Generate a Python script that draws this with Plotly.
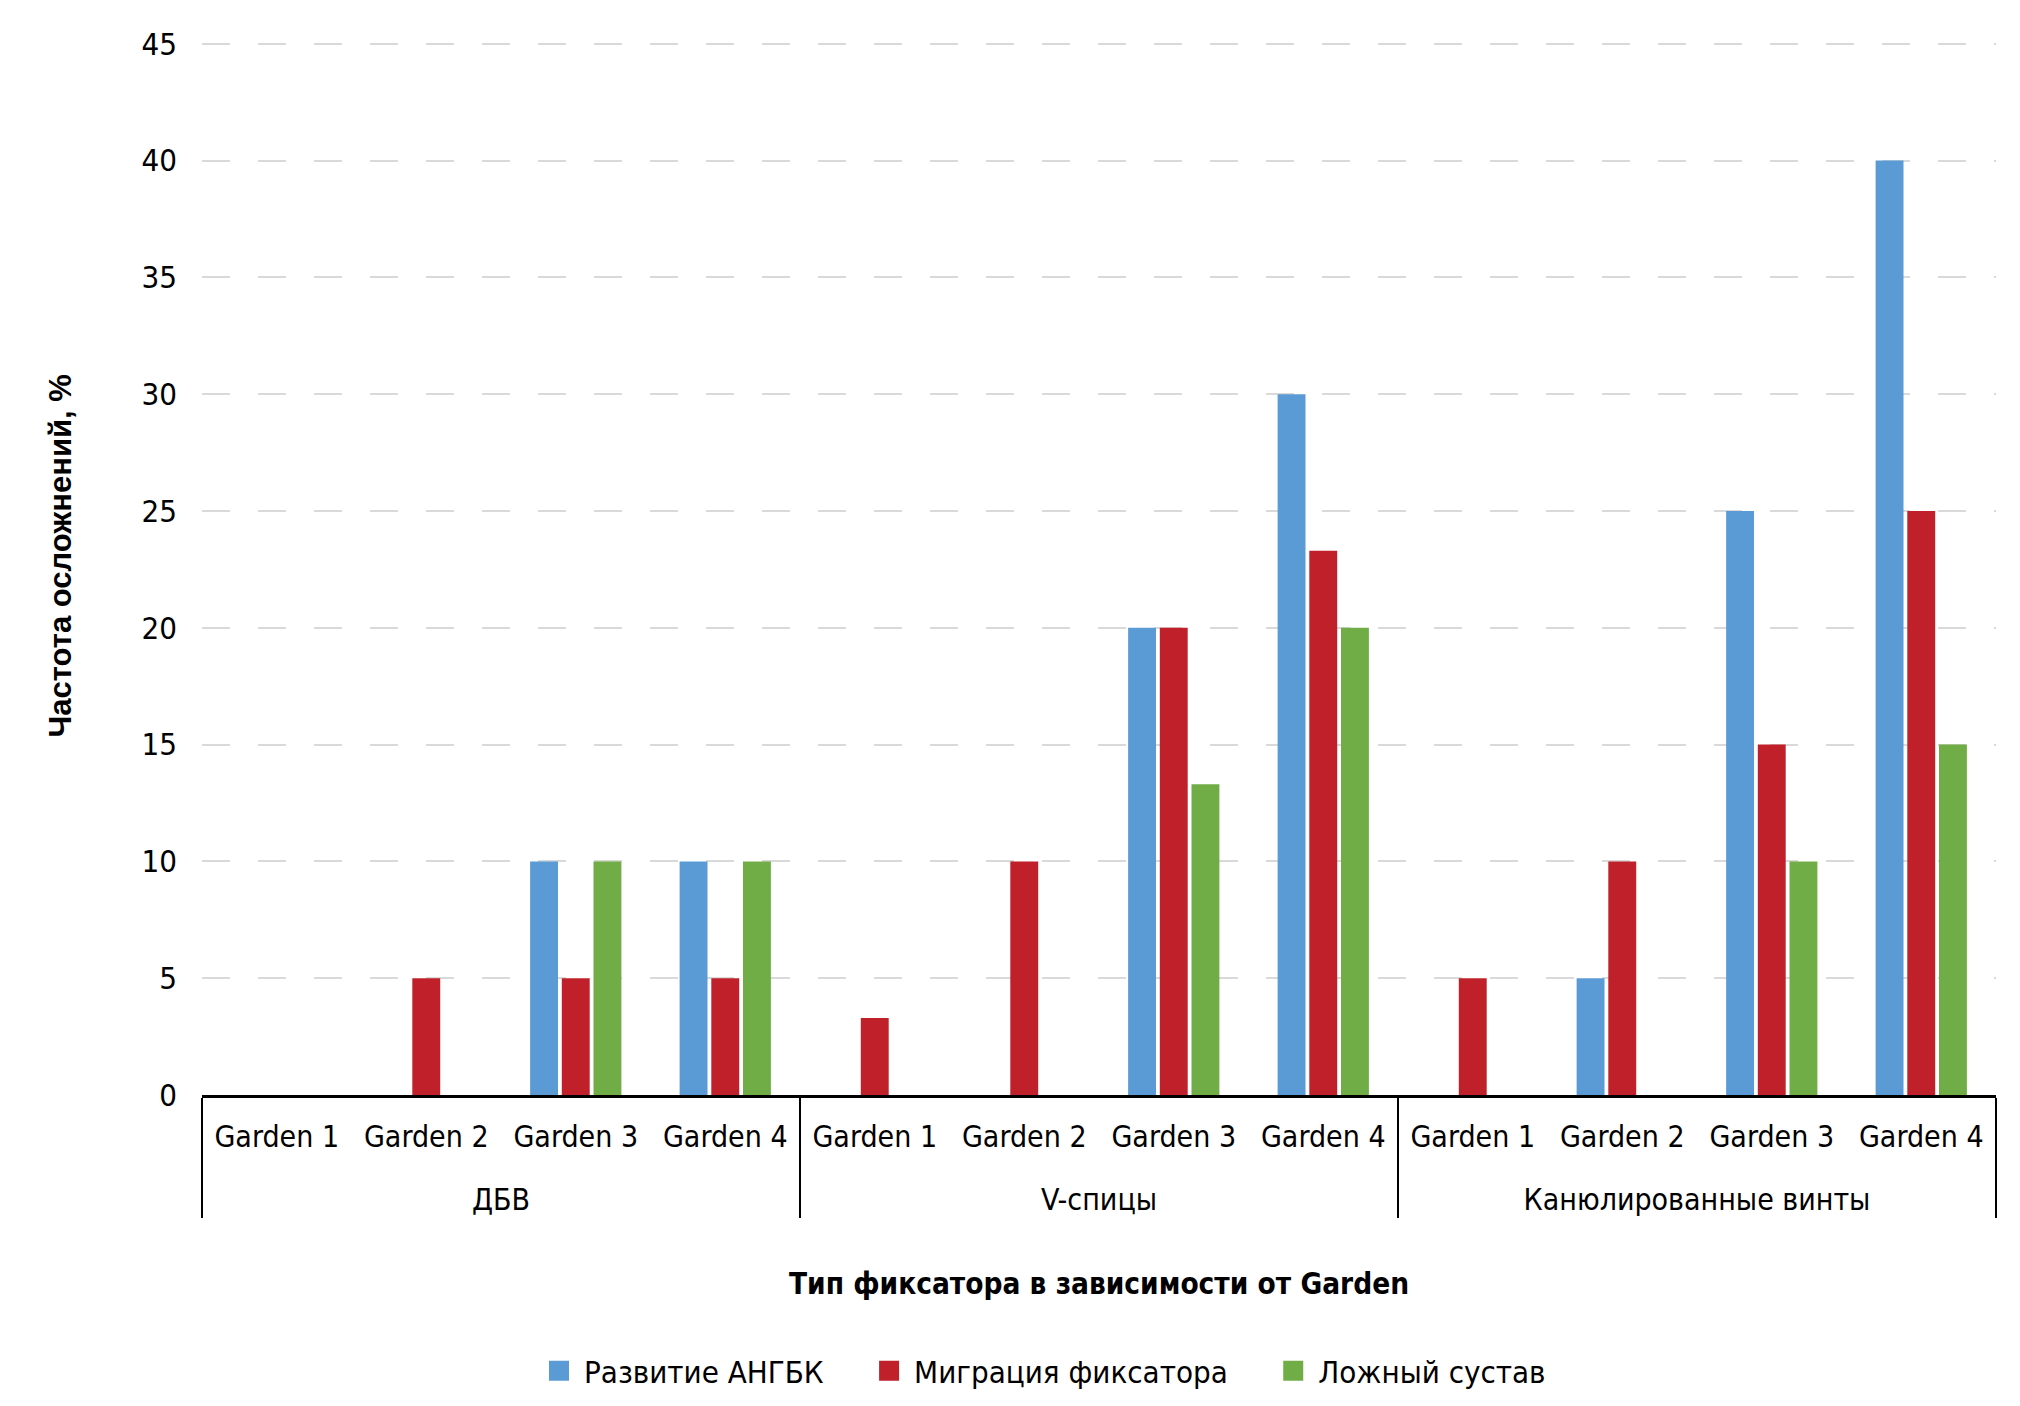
import plotly.graph_objects as go

groups = ["ДБВ", "V-спицы", "Канюлированные винты"]
gardens = ["Garden 1", "Garden 2", "Garden 3", "Garden 4"]

series_names = ["Развитие АНГБК", "Миграция фиксатора", "Ложный сустав"]
angbk = [0, 0, 10, 10, 0, 0, 20, 30, 0, 5, 25, 40]
migration = [0, 5, 5, 5, 3.3, 10, 20, 23.3, 5, 10, 15, 25]
pseudo = [0, 0, 10, 10, 0, 0, 13.3, 20, 0, 0, 10, 15]
colors = ["#5B9BD5", "#C0202A", "#70AD47"]

y_ticks = [0, 5, 10, 15, 20, 25, 30, 35, 40, 45]

x_title = "Тип фиксатора в зависимости от Garden"
y_title = "Частота осложнений, %"

# second-level (group) labels get an empty first line to push them lower
x_level1 = ["<br>" + g for g in groups for _ in gardens]
x_level2 = [gd for _ in groups for gd in gardens]

FONT = "DejaVu Sans Condensed, Roboto, sans-serif"
PAD = "\u00a0" * 4

fig = go.Figure()
for name, vals, col in zip(series_names, [angbk, migration, pseudo], colors):
    fig.add_trace(go.Bar(
        x=[x_level1, x_level2], y=vals, name=name,
        marker=dict(color=col, line=dict(width=0)),
        showlegend=False,
    ))
# legend entries with larger square swatches
for i, (name, col) in enumerate(zip(series_names, colors)):
    fig.add_trace(go.Scatter(
        x=[x_level1[:1], x_level2[:1]], y=[None],
        name=name + (PAD if i < len(series_names) - 1 else ""), mode="markers",
        marker=dict(symbol="square", size=16, color=col, line=dict(color=col, width=4)),
        showlegend=True, hoverinfo="skip",
    ))

n_cat = len(x_level2)

fig.update_layout(
    width=2020, height=1406,
    paper_bgcolor="white", plot_bgcolor="white",
    margin=dict(l=194, r=32, t=33, b=319),
    barmode="group", bargap=0.364, bargroupgap=0.12,
    font=dict(family=FONT, size=30, color="black"),
    showlegend=True,
    legend=dict(orientation="h", x=0.4685, xanchor="center", y=-0.262, yanchor="middle",
                font=dict(family=FONT, size=31, color="black"),
                itemwidth=40, tracegroupgap=0, itemsizing="trace"),
    xaxis=dict(
        type="multicategory", automargin=False,
        range=[-0.5, n_cat - 0.5], autorange=False,
        showline=True, linecolor="black", linewidth=2.5,
        showgrid=False, ticks="", showdividers=True,
        dividercolor="black", dividerwidth=2,
        ticklabelstandoff=13,
        tickfont=dict(family=FONT, size=30, color="black"),
    ),
    yaxis=dict(
        automargin=False,
        range=[0, 45.12], tickvals=y_ticks, ticktext=[str(v) for v in y_ticks],
        showline=False, zeroline=False,
        showgrid=True, gridcolor="#D9D9D9", gridwidth=2, griddash="28px,28px",
        ticks="", ticklabelstandoff=24,
        tickfont=dict(family=FONT, size=31, color="black"),
    ),
    annotations=[
        dict(text="<b>" + x_title + "</b>", xref="paper", yref="paper",
             x=0.5, y=-0.179, xanchor="center", yanchor="middle", showarrow=False,
             font=dict(family=FONT, size=29.5, color="black")),
        dict(text="<b>" + y_title + "</b>", xref="paper", yref="paper",
             x=-0.0791, y=0.511, xanchor="center", yanchor="middle", showarrow=False,
             textangle=-90, font=dict(family="Liberation Sans, Arial, sans-serif", size=31, color="black")),
    ],
)

fig.write_html("out.html")
